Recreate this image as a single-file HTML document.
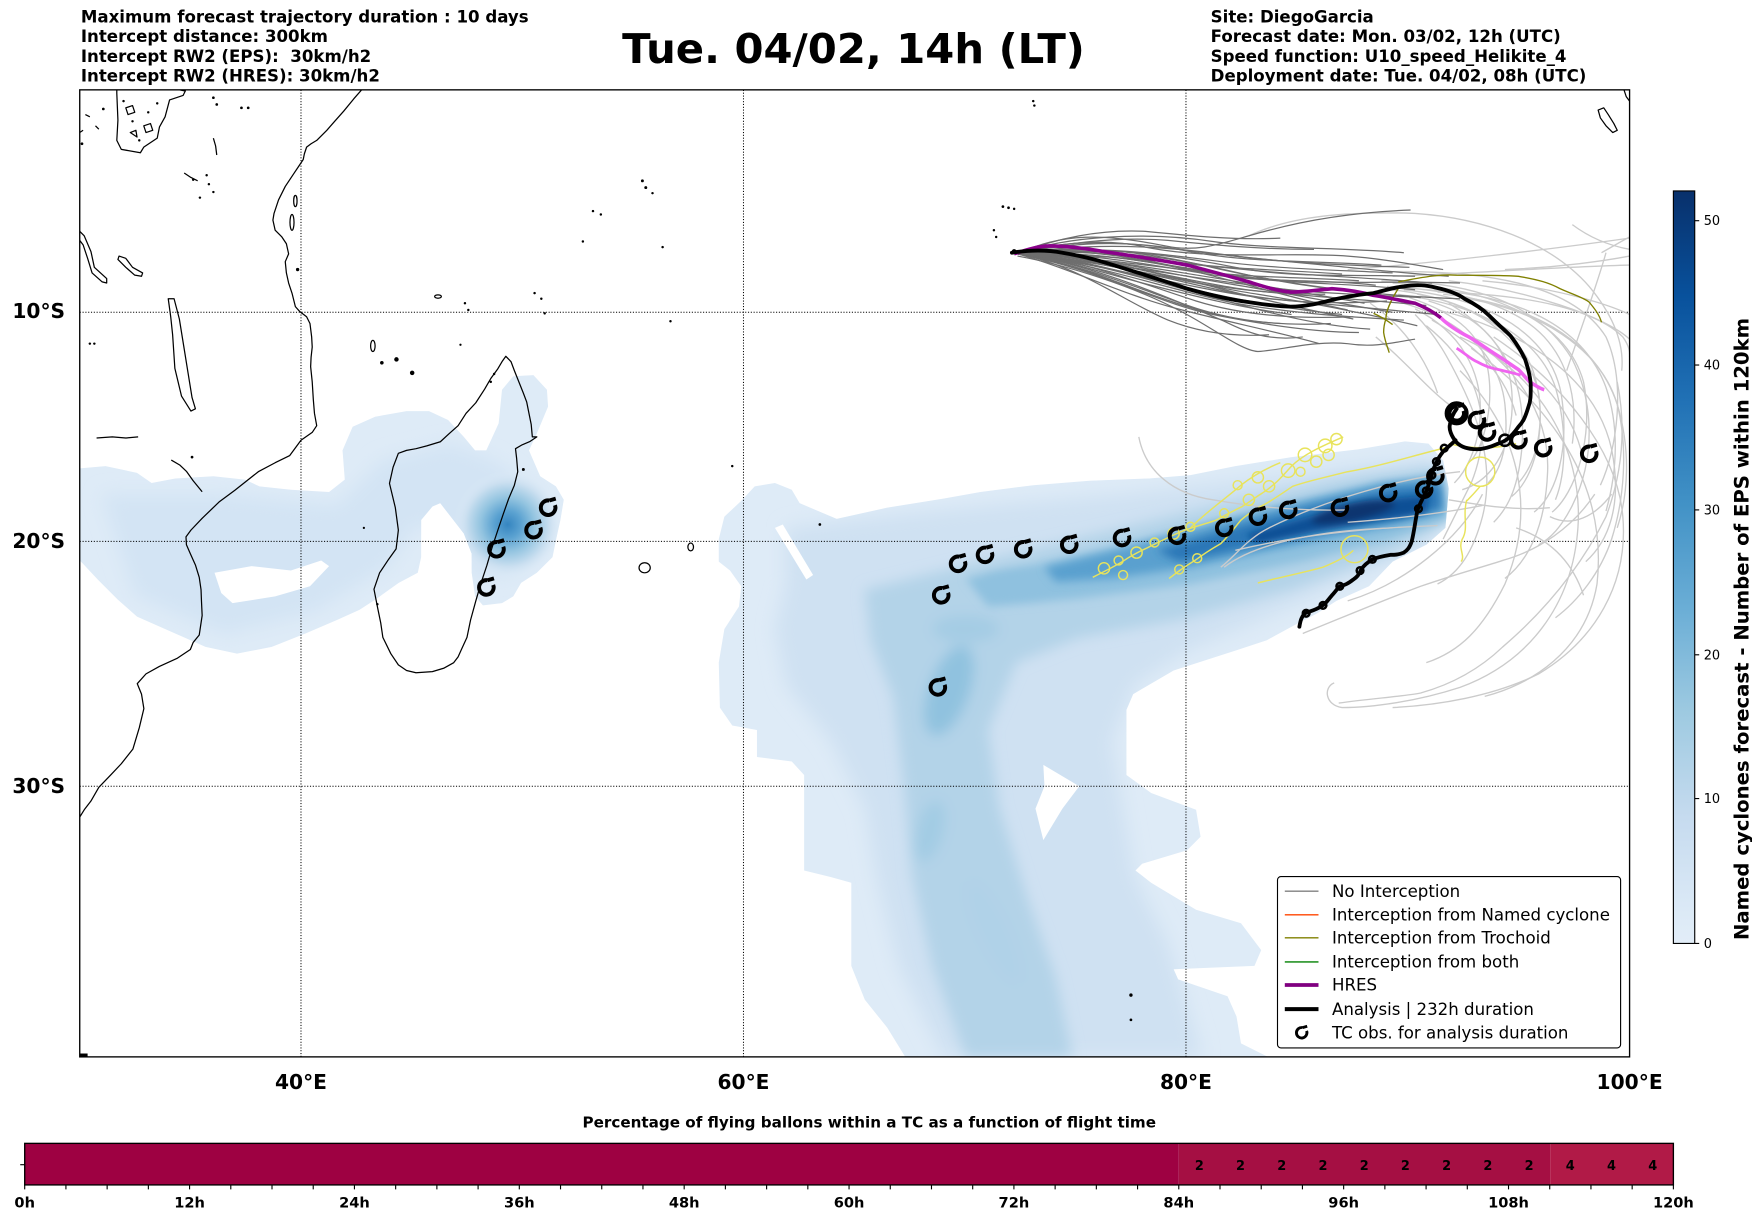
<!DOCTYPE html>
<html><head><meta charset="utf-8"><style>html,body{margin:0;padding:0;background:#fff}svg{display:block}</style></head>
<body>
<svg xmlns="http://www.w3.org/2000/svg" width="1752" height="1213" viewBox="0 0 1560 1080" preserveAspectRatio="none" font-family="'DejaVu Sans','Liberation Sans',sans-serif">
<defs>
<clipPath id="mapc"><rect x="71" y="80" width="1380" height="861"/></clipPath>
<clipPath id="cc"><path d="M640,480 L645,460 L660,446 L672,433 L690,430 L705,436 L712,448 L745,462 L790,452 L840,444 L873,438 L920,432 L970,428 L1023,426 L1060,423 L1100,415 L1150,407 L1210,400 L1251,393 L1272,395 L1285,410 L1290,435 L1287,470 L1270,485 L1240,500 L1219,522 L1190,535 L1173,546 L1150,558 L1128,570 L1101,579 L1045,597 L1009,618 L1003,632 L1003,690 L1025,706 L1065,721 L1069,745 L1057,757 L1017,769 L1011,775 L1025,786 L1065,810 L1105,822 L1123,846 L1117,860 L1045,863 L1049,872 L1093,887 L1101,905 L1105,929 L1129,941 L806,941 L790,915 L770,890 L758,860 L758,786 L740,781 L716,775 L716,690 L705,678 L674,674 L674,650 L652,646 L641,630 L640,590 L645,560 L658,540 L660,522 L650,508 L640,500 Z"/></clipPath>
<clipPath id="lc"><path d="M71,417 L94,415 L122,421 L135,430 L156,426 L190,424 L218,427 L231,433 L259,436 L293,438 L307,427 L305,401 L314,380 L334,371 L362,366 L382,366 L399,374 L413,389 L423,401 L433,401 L444,377 L447,347 L457,335 L475,334 L487,347 L488,362 L478,386 L471,401 L481,424 L495,433 L502,445 L499,463 L495,481 L492,496 L478,510 L464,519 L457,531 L447,537 L430,539 L423,531 L420,510 L420,493 L413,475 L399,457 L392,448 L385,451 L375,463 L375,496 L372,510 L355,519 L334,534 L320,543 L300,552 L272,564 L242,576 L211,582 L183,576 L156,564 L122,549 L105,534 L87,516 L74,502 L71,499 Z"/></clipPath>
<filter id="b8" x="-20%" y="-20%" width="140%" height="140%"><feGaussianBlur stdDeviation="8"/></filter>
<filter id="b6" x="-20%" y="-20%" width="140%" height="140%"><feGaussianBlur stdDeviation="6"/></filter>
<filter id="b4" x="-20%" y="-50%" width="140%" height="200%"><feGaussianBlur stdDeviation="4"/></filter>
<filter id="b3" x="-20%" y="-50%" width="140%" height="200%"><feGaussianBlur stdDeviation="3"/></filter>
<radialGradient id="mg" cx="452" cy="467" r="48" gradientUnits="userSpaceOnUse">
<stop offset="0" stop-color="#3585c0"/><stop offset="0.25" stop-color="#5ba2d1"/><stop offset="0.5" stop-color="#93c4e0"/><stop offset="0.78" stop-color="#cadff0"/><stop offset="1" stop-color="#deebf7" stop-opacity="0"/>
</radialGradient>
<linearGradient id="cb" x1="0" y1="1" x2="0" y2="0">
<stop offset="0" stop-color="#e2edf8"/><stop offset="0.028" stop-color="#deebf7"/><stop offset="0.167" stop-color="#c6dbef"/><stop offset="0.306" stop-color="#9ecae1"/><stop offset="0.444" stop-color="#6baed6"/><stop offset="0.583" stop-color="#4292c6"/><stop offset="0.722" stop-color="#2171b5"/><stop offset="0.861" stop-color="#08519c"/><stop offset="1" stop-color="#08306b"/>
</linearGradient>
</defs>

<rect width="1560" height="1080" fill="#fff"/>

<!-- header -->
<g font-size="14.8" font-weight="bold" fill="#000">
<text x="72" y="20">Maximum forecast trajectory duration : 10 days</text>
<text x="72" y="37.5">Intercept distance: 300km</text>
<text x="72" y="55">Intercept RW2 (EPS):&#160; 30km/h2</text>
<text x="72" y="72.5">Intercept RW2 (HRES): 30km/h2</text>
<text x="1078" y="20">Site: DiegoGarcia</text>
<text x="1078" y="37.5">Forecast date: Mon. 03/02, 12h (UTC)</text>
<text x="1078" y="55">Speed function: U10_speed_Helikite_4</text>
<text x="1078" y="72.5">Deployment date: Tue. 04/02, 08h (UTC)</text>
</g>
<text x="760" y="56" font-size="36.6" font-weight="bold" text-anchor="middle" textLength="412" lengthAdjust="spacingAndGlyphs">Tue. 04/02, 14h (LT)</text>

<g clip-path="url(#mapc)">
<!-- density: left region -->
<path fill="#deebf7" d="M71,417 L94,415 L122,421 L135,430 L156,426 L190,424 L218,427 L231,433 L259,436 L293,438 L307,427 L305,401 L314,380 L334,371 L362,366 L382,366 L399,374 L413,389 L423,401 L433,401 L444,377 L447,347 L457,335 L475,334 L487,347 L488,362 L478,386 L471,401 L481,424 L495,433 L502,445 L499,463 L495,481 L492,496 L478,510 L464,519 L457,531 L447,537 L430,539 L423,531 L420,510 L420,493 L413,475 L399,457 L392,448 L385,451 L375,463 L375,496 L372,510 L355,519 L334,534 L320,543 L300,552 L272,564 L242,576 L211,582 L183,576 L156,564 L122,549 L105,534 L87,516 L74,502 L71,499 Z"/>
<g clip-path="url(#lc)">
<g filter="url(#b8)"><path fill="#d3e4f4" d="M90,440 L200,440 L300,450 L340,410 L400,395 L440,410 L480,440 L485,480 L460,510 L425,515 L400,470 L370,468 L345,505 L280,545 L200,565 L120,530 Z"/></g>
<circle cx="452" cy="467" r="48" fill="url(#mg)"/>
</g>
<path fill="#fff" d="M191,510 L224,504 L259,508 L286,499 L293,504 L276,522 L245,531 L207,537 L197,528 Z"/>

<!-- density: central -->
<path fill="#deebf7" d="M640,480 L645,460 L660,446 L672,433 L690,430 L705,436 L712,448 L745,462 L790,452 L840,444 L873,438 L920,432 L970,428 L1023,426 L1060,423 L1100,415 L1150,407 L1210,400 L1251,393 L1272,395 L1285,410 L1290,435 L1287,470 L1270,485 L1240,500 L1219,522 L1190,535 L1173,546 L1150,558 L1128,570 L1101,579 L1045,597 L1009,618 L1003,632 L1003,690 L1025,706 L1065,721 L1069,745 L1057,757 L1017,769 L1011,775 L1025,786 L1065,810 L1105,822 L1123,846 L1117,860 L1045,863 L1049,872 L1093,887 L1101,905 L1105,929 L1129,941 L806,941 L790,915 L770,890 L758,860 L758,786 L740,781 L716,775 L716,690 L705,678 L674,674 L674,650 L652,646 L641,630 L640,590 L645,560 L658,540 L660,522 L650,508 L640,500 Z"/>
<g clip-path="url(#cc)">
<g filter="url(#b8)"><path fill="#cfe1f2" d="M700,470 L800,458 L900,448 L1000,440 L1100,428 L1200,415 L1275,408 L1290,440 L1280,478 L1240,500 L1150,540 L1060,578 L1010,610 L990,660 L1000,720 L1010,780 L1040,840 L1070,941 L840,941 L800,860 L780,780 L770,720 L740,660 L700,610 L690,560 L700,520 Z"/></g>
<g filter="url(#b6)"><path fill="#b3d3e8" d="M770,525 L880,498 L1000,470 L1100,446 L1200,425 L1280,415 L1290,465 L1240,492 L1150,525 L1050,552 L960,568 L905,590 L880,650 L890,720 L915,800 L940,870 L955,941 L860,941 L830,860 L812,780 L805,700 L795,620 L775,570 Z"/>
<ellipse cx="845" cy="615" rx="18" ry="42" transform="rotate(20 845 615)" fill="#90c2df"/>
<ellipse cx="828" cy="740" rx="12" ry="28" transform="rotate(15 828 740)" fill="#a3cce4"/>
<ellipse cx="885" cy="830" rx="14" ry="50" transform="rotate(-25 885 830)" fill="#b0d2e8"/>
<ellipse cx="905" cy="520" rx="30" ry="9" fill="#85bbdc"/>
<ellipse cx="860" cy="560" rx="30" ry="12" fill="#a4cce4"/></g>
<g filter="url(#b4)"><path fill="#8fc1df" d="M860,515 L950,497 L1050,474 L1150,451 L1230,432 L1285,422 L1290,462 L1240,480 L1160,500 L1060,520 L960,533 L880,540 Z"/></g>
<g filter="url(#b4)"><path fill="#5aa0cf" d="M930,505 L1000,488 L1080,466 L1160,446 L1230,430 L1282,425 L1286,456 L1250,466 L1200,476 L1130,490 L1060,505 L990,515 L940,518 Z"/></g>
<g filter="url(#b4)"><path fill="#2b77b7" d="M1030,490 L1100,469 L1170,450 L1240,435 L1282,432 L1283,453 L1240,463 L1180,473 L1110,488 L1050,500 Z"/></g>
<g filter="url(#b3)"><path fill="#0c4f95" d="M1110,476 L1170,459 L1230,445 L1272,441 L1270,456 L1230,463 L1170,473 L1120,484 Z"/>
<ellipse cx="1205" cy="456" rx="38" ry="8" transform="rotate(-12 1205 456)" fill="#08346f"/></g>
</g>
<path fill="#fff" d="M690,470 L697,467 L724,512 L718,516 Z"/>
<path fill="#fff" d="M929,681 L961,700 L946,720 L929,748 L922,720 L930,700 Z"/>

<!-- gridlines -->
<g stroke="#000" stroke-width="0.9" stroke-dasharray="1 1.5" fill="none">
<line x1="268" y1="80" x2="268" y2="941"/><line x1="662" y1="80" x2="662" y2="941"/><line x1="1056" y1="80" x2="1056" y2="941"/>
<line x1="71" y1="278" x2="1451" y2="278"/><line x1="71" y1="482" x2="1451" y2="482"/><line x1="71" y1="700" x2="1451" y2="700"/>
</g>

<!-- coastlines -->
<g stroke="#000" stroke-width="1.1" fill="none" stroke-linejoin="round">
<path d="M322,80 L315,88 L306,99 L298,108 L291,116 L282,125 L277,128 L273,131 L271,137 L270,142 L266,148 L262,154 L258,160 L254,166 L251,172 L248,178 L246,184 L244,190 L243,196 L245,205 L251,211 L255,217 L257,226 L254,233 L255,243 L257,252 L260,261 L263,273 L267,277.5 L273,282 L276,288 L277.5,300 L278,309 L277,318 L276.6,326.5 L278,340 L279,356 L280,368 L282,379 L278,385 L268,392 L258,405.6 L245,412 L230,420 L209,436.6 L195,447 L180,461.5 L170,472 L165.6,478 L166,485 L169.5,493 L174,503 L177.4,514 L179,525 L179.4,535.3 L180,548 L177.4,565.4 L172,572 L169.5,578.3 L158,586 L141.9,593.4 L130,600 L122.2,608.7 L126,618 L128.1,630.9 L124,648 L118.3,667 L108,680 L98.6,690 L88,701 L80.9,713.3 L75,721 L71,727.5"/>
<path d="M450.4,317.2 L455,322 L458,330 L462,340 L466,350 L469,358 L471,368 L473,378 L474,389 L478,389 L472,393 L465,396 L459,399.5 L460,408 L461,420 L458,432 L453,443.8 L448,458 L443.3,471.9 L438,488 L433.5,503.4 L428,520 L423.6,535.3 L419,552 L415.8,567.5 L411,578 L407.9,584.9 L404,590 L395,595 L385,598 L370.4,599 L362,597 L354.7,592 L348,582 L340.9,567.5 L339,554.6 L336,540 L333,524.6 L338,510 L346,498 L352.7,488.7 L354.7,472 L352,452 L346.8,430.4 L350,416 L354.7,403.6 L362,401 L370.4,399.5 L380,397 L392.1,393.3 L400,386 L407.9,379 L415,368 L423.6,358.7 L431.5,346.5 L437,337 L443.3,328.3 L447,322 Z"/>
<path d="M149.8,266 L152,282 L153.7,298 L155.7,328 L161.6,352.6 L170,366 L174,364 L171,354 L167.5,332.4 L163.6,308.2 L159.7,284 L155,266 Z"/>
<path d="M104,80 L104,83 L105,107 L104,125 L108,133 L125,136 L128,131 L140,123 L142,113 L147,104 L151,89 L163,85 L165,81 L160,80"/>
<path d="M112,96 L118,94 L120,100 L114,102 Z M128,112 L134,110 L136,116 L130,118 Z M116,118 L121,116 L122,122 Z"/>
<path d="M71,206 L75,210 L81,224 L84,238 L95,248 L95,252 L91,251 L82,243 L78,230 L74,218 L71,214"/>
<path d="M106,228 L112,230 L118,238 L127,243 L126,246 L120,245 L112,238 L105,231 Z"/>
<path d="M86,390 L100,389 L112,390 L123,389"/>
<path d="M152.5,409.6 L160,414 L166.2,419.9 L172,428 L180,437.8"/>
<path d="M71,118 L74,116 M76,102 L80,104 M85,112 L88,115"/>
<path d="M190,123 L192,130 L193,138 M164,154 L170,158 L176,161"/>
<ellipse cx="260" cy="198" rx="1.8" ry="7"/>
<ellipse cx="263" cy="179" rx="1.5" ry="5"/>
<ellipse cx="332" cy="308" rx="2" ry="5"/>
<ellipse cx="390" cy="264" rx="3" ry="1.5"/>
<ellipse cx="574" cy="505.5" rx="5" ry="4.5"/>
<ellipse cx="615" cy="487" rx="2.5" ry="3.5"/>
<path d="M1423,98 L1428,96 L1432,102 L1437,110 L1440,116 L1436,118 L1430,112 L1425,105 Z"/>
<path d="M1446,80 L1448,86 L1451,90"/>
</g>
<g fill="#000">
<circle cx="340" cy="323" r="1.6"/><circle cx="353" cy="320" r="2"/><circle cx="367" cy="332" r="2"/>
<circle cx="265" cy="240" r="1.5"/><circle cx="190" cy="87" r="1.2"/><circle cx="193" cy="93" r="1.2"/><circle cx="215" cy="96" r="1.2"/><circle cx="221" cy="96" r="1.2"/>
<circle cx="172" cy="160" r="1.1"/><circle cx="184" cy="156" r="1.1"/><circle cx="186" cy="164" r="1.1"/><circle cx="178" cy="176" r="1.1"/><circle cx="190" cy="171" r="1.1"/>
<circle cx="80" cy="306" r="1.1"/><circle cx="84" cy="306" r="1.1"/><circle cx="171" cy="407" r="1.2"/><circle cx="73" cy="128" r="1.2"/><circle cx="92" cy="97" r="1.2"/>
<circle cx="110" cy="90" r="1.1"/><circle cx="118" cy="108" r="1.1"/><circle cx="124" cy="125" r="1.1"/><circle cx="132" cy="100" r="1.1"/><circle cx="140" cy="92" r="1.1"/>
<circle cx="414" cy="270" r="1.1"/><circle cx="417" cy="276" r="1.1"/><circle cx="410" cy="307" r="1"/><circle cx="476" cy="261" r="1.1"/><circle cx="482" cy="266" r="1.1"/><circle cx="485" cy="279" r="1.1"/>
<circle cx="519" cy="215" r="1.1"/><circle cx="528" cy="188" r="1.1"/><circle cx="535" cy="191" r="1.1"/><circle cx="572" cy="161" r="1.3"/><circle cx="575" cy="167" r="1.3"/><circle cx="581" cy="172" r="1.1"/><circle cx="590" cy="220" r="1.1"/><circle cx="597" cy="286" r="1.1"/>
<circle cx="652" cy="415" r="1.1"/><circle cx="730" cy="467" r="1.2"/><circle cx="466" cy="418" r="1.3"/><circle cx="440" cy="333" r="1.1"/><circle cx="437" cy="340" r="1.1"/><circle cx="336" cy="538" r="1.1"/><circle cx="324" cy="470" r="1"/>
<circle cx="893" cy="184" r="1.2"/><circle cx="898" cy="185" r="1.2"/><circle cx="903" cy="186" r="1.1"/><circle cx="885" cy="205" r="1.1"/><circle cx="887" cy="211" r="1.1"/>
<circle cx="920" cy="90" r="1.1"/><circle cx="921" cy="94" r="1.1"/><circle cx="1007" cy="886" r="1.5"/><circle cx="1007" cy="908" r="1.2"/>
<rect x="71" y="938" width="7" height="3"/>
</g>

<!-- light gray tracks -->
<g stroke="#cbcbcb" stroke-width="1.2" fill="none">
<path d="M1112,210 C1150,192 1200,188 1260,190 C1320,194 1380,215 1415,255 C1440,285 1446,310 1444,330"/>
<path d="M1200,240 C1280,234 1380,222 1451,212"/>
<path d="M1230,242 C1320,240 1400,252 1430,300 C1448,340 1440,400 1425,432"/>
<path d="M1240,252 C1330,256 1395,286 1410,340 C1420,390 1402,440 1382,456"/>
<path d="M1250,258 C1330,266 1380,300 1390,350 C1398,400 1386,440 1366,456"/>
<path d="M1262,262 C1320,272 1360,306 1370,350 C1376,395 1362,430 1346,442"/>
<path d="M1272,268 C1330,285 1350,320 1346,370 C1342,410 1322,430 1302,436"/>
<path d="M1255,265 C1300,280 1320,300 1325,330 C1330,360 1322,395 1310,410"/>
<path d="M1280,276 C1350,292 1420,332 1435,400 C1445,450 1432,482 1412,500"/>
<path d="M1290,250 C1360,258 1430,282 1451,302"/>
<path d="M1300,300 C1370,330 1410,400 1405,470 C1400,540 1360,590 1300,612 C1260,625 1220,630 1195,630 C1180,628 1178,612 1188,608"/>
<path d="M1310,310 C1380,360 1432,430 1422,520 C1412,580 1362,610 1322,620"/>
<path d="M1300,420 C1250,425 1180,445 1130,470 C1110,480 1100,495 1087,505"/>
<path d="M1014,389 C1020,420 1045,440 1080,445 C1120,452 1160,455 1200,454"/>
<path d="M1160,564 C1190,552 1230,535 1265,522 C1300,510 1320,505 1338,499 C1370,490 1400,470 1420,440"/>
<path d="M1192,626 C1220,622 1250,620 1265,617 C1290,610 1315,598 1338,576 C1380,540 1410,500 1430,460 C1445,420 1448,380 1440,340"/>
<path d="M1426,225 C1435,220 1445,214 1451,211"/>
<path d="M1430,225 C1420,260 1405,300 1395,330"/>
<path d="M1290,270 C1340,300 1360,340 1355,400 C1352,430 1345,450 1330,465"/>
<path d="M1285,262 C1360,270 1420,300 1440,360 C1452,400 1450,440 1440,470"/>
<path d="M1260,280 C1280,300 1290,320 1300,340"/>
<path d="M1225,300 C1250,320 1270,345 1290,360"/>
<path d="M1320,440 C1300,480 1250,520 1200,535"/>
<path d="M1240,246 C1300,244 1380,238 1451,236"/>
<path d="M1380,460 C1400,470 1420,460 1435,440"/>
<path d="M1240,470 C1180,472 1120,482 1090,505"/>
<path d="M1270,290 C1320,330 1330,380 1310,430 C1300,450 1290,470 1285,480"/>
<path d="M1300,330 C1350,380 1370,450 1340,520 C1320,560 1300,580 1270,590"/>
<path d="M1230,250 C1310,250 1370,270 1400,320 C1420,360 1420,410 1400,450 C1390,470 1380,480 1370,485"/>
<path d="M1245,262 C1320,272 1370,300 1385,345 C1395,380 1395,420 1385,445"/>
<path d="M1270,258 C1350,262 1410,290 1430,345 C1442,380 1440,420 1430,455"/>
<path d="M1250,270 C1300,285 1335,315 1340,360 C1344,400 1335,420 1325,430"/>
<path d="M1260,275 C1300,295 1320,330 1318,370 C1316,400 1305,420 1295,430"/>
<path d="M1280,260 C1360,262 1420,275 1445,300 C1452,310 1451,315 1451,318"/>
<path d="M1300,265 C1370,275 1425,310 1440,360 C1450,400 1446,445 1435,480 C1425,510 1405,535 1385,550"/>
<path d="M1290,290 C1350,320 1380,370 1378,420 C1376,470 1360,500 1340,515"/>
<path d="M1310,300 C1360,320 1400,360 1410,410"/>
<path d="M1240,258 C1300,265 1350,290 1365,330 C1378,370 1370,410 1352,430"/>
<path d="M1320,250 C1380,255 1430,270 1451,280"/>
<path d="M1340,240 C1390,238 1430,232 1451,228"/>
<path d="M1300,340 C1320,380 1330,420 1320,460 C1312,490 1300,510 1280,520"/>
<path d="M1220,270 C1250,290 1270,320 1280,350"/>
<path d="M1330,300 C1390,340 1440,400 1445,460 C1450,520 1420,570 1370,600 C1330,620 1280,628 1240,630"/>
<path d="M1350,470 C1380,480 1400,500 1410,530"/>
<path d="M1290,445 C1320,450 1350,455 1380,452"/>
<path d="M1200,465 C1240,462 1280,458 1320,450"/>
<path d="M1100,490 C1150,478 1210,470 1280,468"/>
<path d="M1235,255 C1290,258 1345,268 1375,300 C1398,325 1405,360 1400,395"/>
<path d="M1275,285 C1310,305 1340,330 1350,370"/>
<path d="M1400,200 C1420,215 1440,220 1451,222"/>
</g>

<!-- dark gray tracks -->
<g stroke="#6e6e6e" stroke-width="1.1" fill="none">
<path d="M906,226 C946,207 983,208 1038,219 C1070,226 1094,214 1130,205 C1160,197 1200,189 1256,187"/>
<path d="M906,226 C950,212 1000,215 1050,222 C1100,229 1150,233 1200,238 C1230,241 1260,244 1290,246"/>
<path d="M906,226 C960,218 1020,224 1080,232 C1130,239 1180,240 1240,243"/>
<path d="M906,226 C970,222 1040,236 1100,246 C1150,253 1200,252 1260,258"/>
<path d="M906,226 C980,228 1050,250 1110,258 C1160,264 1210,266 1270,272"/>
<path d="M906,226 C975,234 1040,258 1100,270 C1150,279 1200,282 1250,285"/>
<path d="M906,228 C950,236 1010,255 1053,278 C1080,292 1105,312 1120,313 C1140,312 1170,303 1200,306 C1225,310 1245,304 1260,302"/>
<path d="M906,226 C960,230 1020,248 1070,262 C1120,276 1170,290 1220,293"/>
<path d="M906,226 C960,214 1010,214 1060,224 C1110,234 1170,232 1230,236"/>
<path d="M906,226 C940,216 985,212 1020,220 C1080,232 1150,224 1200,228 C1230,230 1260,236 1285,240"/>
<path d="M906,226 C990,236 1060,258 1130,266 C1190,272 1240,276 1280,280"/>
<path d="M906,226 C950,224 1000,236 1040,246 C1080,256 1130,262 1180,262"/>
<path d="M906,226 C960,236 1000,268 1040,285 C1070,297 1100,300 1130,298"/>
<path d="M906,226 C1000,230 1080,246 1150,250 C1200,253 1250,250 1300,252"/>
<path d="M906,226 C960,220 1030,226 1090,240 C1140,252 1200,262 1300,266"/>
<path d="M906,226 C940,218 990,210 1040,214 C1080,218 1120,222 1170,222"/>
<path d="M906,226 C970,226 1030,242 1090,252 C1140,260 1190,270 1240,278"/>
<path d="M906,226 C980,240 1030,270 1080,280 C1120,288 1170,296 1210,296"/>
<path d="M906,226 C960,232 1030,260 1090,286 C1110,296 1130,304 1160,300"/>
<path d="M906,226 C950,210 1020,206 1080,215 C1130,222 1190,220 1250,225"/>
<path d="M906,226 C965,224 1025,236 1075,244 C1125,252 1175,248 1225,254"/>
<path d="M906,226 C955,228 1005,244 1055,256 C1105,268 1155,276 1195,280"/>
<path d="M906,226 C950,218 1010,222 1070,236 C1120,248 1170,256 1230,262"/>
<path d="M906,226 C960,226 1020,240 1075,254 C1120,266 1165,276 1205,284"/>
<path d="M906,226 C955,220 1005,228 1050,238 C1100,248 1150,246 1210,250"/>
<path d="M906,226 C970,230 1030,246 1085,258 C1130,268 1180,272 1235,268"/>
<path d="M906,226 C945,222 995,226 1040,232 C1090,240 1140,240 1195,244"/>
<path d="M906,226 C975,238 1025,262 1070,276 C1110,288 1150,290 1185,288"/>
<path d="M906,226 C960,228 1010,236 1060,244 C1110,252 1160,260 1215,270"/>
<path d="M906,226 C950,232 990,250 1030,264 C1070,278 1100,286 1140,288"/>
<path d="M906,226 C965,216 1025,218 1085,226 C1140,234 1195,236 1255,238"/>
<path d="M906,226 C980,232 1050,246 1115,254 C1170,262 1220,262 1265,265"/>
<path d="M906,226 C945,230 985,244 1025,254 C1065,264 1105,274 1150,280"/>
<path d="M906,226 C960,224 1015,230 1065,242 C1115,254 1160,268 1200,276"/>
<path d="M906,226 C990,226 1060,236 1130,242 C1180,246 1230,248 1275,252"/>
<path d="M906,226 C955,240 1000,262 1045,274 C1090,286 1140,296 1175,306"/>
<path d="M906,226 C940,212 980,204 1020,206 C1060,210 1100,214 1140,212"/>
<path d="M906,226 C970,218 1040,226 1100,238 C1150,248 1200,244 1260,246"/>
<path d="M906,226 C960,230 1015,252 1065,268 C1110,282 1160,284 1205,282"/>
<path d="M906,226 C985,232 1055,252 1120,262 C1170,270 1220,280 1262,290"/>
</g>

<!-- olive -->
<g stroke="#808000" stroke-width="1.2" fill="none">
<path d="M1245,251 C1270,246 1285,244 1297,245 C1320,245 1340,245 1352,246 C1370,249 1380,252 1389,257 C1400,262 1410,265 1415,269 C1420,275 1424,280 1426,287"/>
<path d="M1245,257 C1238,268 1234,278 1234,284 C1232,290 1232,293 1232,296 C1233,303 1235,308 1237,314"/>
<path d="M1223,279 C1230,282 1236,286 1240,289"/>
</g>

<!-- yellow -->
<g stroke="#e8e35c" stroke-width="1.3" fill="none">
<path d="M973,514 C985,508 995,503 1001,499 C1010,493 1017,490 1023,487 C1035,481 1045,476 1055,472 C1070,467 1078,465 1083,463 C1092,458 1100,454 1106,451 C1114,446 1119,442 1124,439 C1135,432 1142,424 1150,415 C1160,405 1175,398 1196,389"/>
<circle cx="983" cy="506" r="5"/><circle cx="996" cy="499" r="4"/><circle cx="1012" cy="492" r="5"/><circle cx="1028" cy="483" r="4"/><circle cx="1045" cy="475" r="5"/><circle cx="1060" cy="469" r="4"/><circle cx="1090" cy="457" r="4"/><circle cx="1112" cy="445" r="5"/><circle cx="1130" cy="433" r="5"/><circle cx="1147" cy="419" r="6"/><circle cx="1162" cy="405" r="6"/><circle cx="1180" cy="397" r="6"/><circle cx="1190" cy="391" r="5"/><circle cx="1183" cy="405" r="5"/><circle cx="1172" cy="411" r="5"/><circle cx="1158" cy="420" r="4"/><circle cx="1102" cy="432" r="4"/><circle cx="1120" cy="425" r="5"/>
<path d="M1041,515 C1050,508 1057,503 1064,499 C1072,493 1080,488 1087,484 C1095,476 1100,469 1105,463 C1113,456 1120,452 1128,448 C1138,442 1145,437 1151,433 C1165,428 1180,425 1200,420 C1230,415 1260,405 1290,398"/>
<circle cx="1050" cy="507" r="4"/><circle cx="1066" cy="497" r="4"/><circle cx="1000" cy="512" r="4"/>
<path d="M1120,519 C1140,514 1160,510 1178,505 C1190,500 1200,495 1205,490"/>
<circle cx="1206" cy="489" r="12"/>
<path d="M1306,445 C1302,460 1308,470 1302,480 C1298,488 1305,495 1301,500"/>
<circle cx="1318" cy="420" r="13"/>
<path d="M1290,395 C1310,400 1330,400 1350,395"/>
<path d="M1318,433 C1312,440 1308,444 1306,446"/>
<path d="M1060,470 C1075,455 1090,445 1105,432 C1115,424 1125,418 1140,412"/>
</g>

<!-- HRES -->
<path d="M903,226 C915,222 925,219 935,219 C950,219 965,221 983,224 C1010,228 1035,232 1057,236 C1080,242 1095,246 1112,251 C1125,255 1137,259 1149,260 C1162,260 1175,258 1186,257 C1200,258 1212,260 1223,263 C1236,265 1250,268 1260,270 C1270,274 1278,279 1283,283" stroke="#8b008b" stroke-width="3.2" fill="none"/>
<path d="M1283,283 C1290,290 1300,296 1308,300 C1318,306 1326,312 1334,317 C1342,322 1347,326 1352,329 C1356,333 1359,337 1362,340 C1367,343 1371,346 1375,347" stroke="#f064f0" stroke-width="3.2" fill="none"/>
<path d="M1297,310 C1305,315 1310,320 1315,322 C1322,326 1328,328 1334,329 C1342,331 1348,332 1354,334" stroke="#f064f0" stroke-width="2.5" fill="none"/>

<!-- analysis -->
<g stroke="#000" stroke-width="3.4" fill="none" stroke-linecap="round" stroke-linejoin="round">
<path d="M901,225 C920,222 935,223 946,225 C970,229 985,234 1001,239 C1020,245 1040,251 1057,257 C1075,262 1095,267 1112,269 C1125,271 1137,273 1149,273 C1163,273 1175,270 1186,267 C1200,264 1212,262 1223,261 C1232,259 1240,256 1250,255 C1262,253 1270,254 1278,256 C1292,259 1300,263 1304,266 C1316,272 1322,277 1326,281 C1335,290 1340,294 1345,299 C1352,308 1355,314 1358,320 C1362,332 1363,338 1363,344 C1363,352 1363,357 1361,362 C1358,372 1356,376 1352,380 C1345,390 1340,393 1334,395 C1325,399 1320,400 1315,400 C1305,400 1300,397 1297,394 C1292,388 1290,382 1291,378 C1292,372 1294,368 1297,364"/>
<circle cx="1297" cy="368" r="9"/>
<path d="M1296,392 C1292,396 1288,399 1285,402 C1281,407 1279,411 1278,414 C1276,418 1275,421 1275,423 C1273,428 1272,432 1271,435 C1268,442 1264,448 1262,455 C1260,465 1259,474 1257,482 C1255,488 1253,490 1250,492 C1245,494 1242,494 1238,494 C1232,495 1227,496 1222,498 C1217,501 1214,504 1212,507 C1210,512 1208,514 1205,516 C1200,520 1197,521 1193,522 C1190,525 1188,528 1186,530 C1182,535 1180,538 1176,540 C1172,543 1167,544 1162,546 C1159,549 1158,552 1157,558"/>
</g>
<g stroke="#000" stroke-width="2.2" fill="none">
<circle cx="1286" cy="399" r="3"/><circle cx="1279" cy="411" r="3"/><circle cx="1275" cy="423" r="3"/><circle cx="1270" cy="437" r="3"/><circle cx="1263" cy="453" r="3"/><circle cx="1222" cy="498" r="3"/><circle cx="1211" cy="508" r="3"/><circle cx="1193" cy="522" r="3"/><circle cx="1178" cy="539" r="3"/><circle cx="1163" cy="546" r="3"/><circle cx="1340" cy="392" r="5"/>
</g>
<circle cx="903" cy="224" r="2.2" fill="#000"/>

<!-- TC obs markers -->
<g stroke="#000" stroke-width="3" fill="none">
<path transform="translate(433,523) scale(1.18)" d="M0.95,-5.4 A5.5,5.5 0 1 0 5.2,-1.9 M0.95,-5.4 L5.8,-6.8"/>
<path transform="translate(442,489) scale(1.18)" d="M0.95,-5.4 A5.5,5.5 0 1 0 5.2,-1.9 M0.95,-5.4 L5.8,-6.8"/>
<path transform="translate(475,472) scale(1.18)" d="M0.95,-5.4 A5.5,5.5 0 1 0 5.2,-1.9 M0.95,-5.4 L5.8,-6.8"/>
<path transform="translate(488,452) scale(1.18)" d="M0.95,-5.4 A5.5,5.5 0 1 0 5.2,-1.9 M0.95,-5.4 L5.8,-6.8"/>
<path transform="translate(835,612) scale(1.18)" d="M0.95,-5.4 A5.5,5.5 0 1 0 5.2,-1.9 M0.95,-5.4 L5.8,-6.8"/>
<path transform="translate(838,530) scale(1.18)" d="M0.95,-5.4 A5.5,5.5 0 1 0 5.2,-1.9 M0.95,-5.4 L5.8,-6.8"/>
<path transform="translate(853,502) scale(1.18)" d="M0.95,-5.4 A5.5,5.5 0 1 0 5.2,-1.9 M0.95,-5.4 L5.8,-6.8"/>
<path transform="translate(877,494) scale(1.18)" d="M0.95,-5.4 A5.5,5.5 0 1 0 5.2,-1.9 M0.95,-5.4 L5.8,-6.8"/>
<path transform="translate(911,489) scale(1.18)" d="M0.95,-5.4 A5.5,5.5 0 1 0 5.2,-1.9 M0.95,-5.4 L5.8,-6.8"/>
<path transform="translate(952,485) scale(1.18)" d="M0.95,-5.4 A5.5,5.5 0 1 0 5.2,-1.9 M0.95,-5.4 L5.8,-6.8"/>
<path transform="translate(999,479) scale(1.18)" d="M0.95,-5.4 A5.5,5.5 0 1 0 5.2,-1.9 M0.95,-5.4 L5.8,-6.8"/>
<path transform="translate(1048,477) scale(1.18)" d="M0.95,-5.4 A5.5,5.5 0 1 0 5.2,-1.9 M0.95,-5.4 L5.8,-6.8"/>
<path transform="translate(1090,470) scale(1.18)" d="M0.95,-5.4 A5.5,5.5 0 1 0 5.2,-1.9 M0.95,-5.4 L5.8,-6.8"/>
<path transform="translate(1120,460) scale(1.18)" d="M0.95,-5.4 A5.5,5.5 0 1 0 5.2,-1.9 M0.95,-5.4 L5.8,-6.8"/>
<path transform="translate(1147,454) scale(1.18)" d="M0.95,-5.4 A5.5,5.5 0 1 0 5.2,-1.9 M0.95,-5.4 L5.8,-6.8"/>
<path transform="translate(1193,452) scale(1.18)" d="M0.95,-5.4 A5.5,5.5 0 1 0 5.2,-1.9 M0.95,-5.4 L5.8,-6.8"/>
<path transform="translate(1236,439) scale(1.18)" d="M0.95,-5.4 A5.5,5.5 0 1 0 5.2,-1.9 M0.95,-5.4 L5.8,-6.8"/>
<path transform="translate(1268,436) scale(1.18)" d="M0.95,-5.4 A5.5,5.5 0 1 0 5.2,-1.9 M0.95,-5.4 L5.8,-6.8"/>
<path transform="translate(1278,424) scale(1.18)" d="M0.95,-5.4 A5.5,5.5 0 1 0 5.2,-1.9 M0.95,-5.4 L5.8,-6.8"/>
<path transform="translate(1297,368) scale(1.18)" d="M0.95,-5.4 A5.5,5.5 0 1 0 5.2,-1.9 M0.95,-5.4 L5.8,-6.8"/>
<path transform="translate(1315,374) scale(1.18)" d="M0.95,-5.4 A5.5,5.5 0 1 0 5.2,-1.9 M0.95,-5.4 L5.8,-6.8"/>
<path transform="translate(1324,385) scale(1.18)" d="M0.95,-5.4 A5.5,5.5 0 1 0 5.2,-1.9 M0.95,-5.4 L5.8,-6.8"/>
<path transform="translate(1352,392) scale(1.18)" d="M0.95,-5.4 A5.5,5.5 0 1 0 5.2,-1.9 M0.95,-5.4 L5.8,-6.8"/>
<path transform="translate(1374,399) scale(1.18)" d="M0.95,-5.4 A5.5,5.5 0 1 0 5.2,-1.9 M0.95,-5.4 L5.8,-6.8"/>
<path transform="translate(1415,404) scale(1.18)" d="M0.95,-5.4 A5.5,5.5 0 1 0 5.2,-1.9 M0.95,-5.4 L5.8,-6.8"/>
</g>
</g>

<!-- legend -->
<rect x="1137.5" y="780.5" width="305.5" height="152.5" rx="3" fill="#fff" stroke="#000" stroke-width="1"/>
<line x1="1144" y1="793.5" x2="1174" y2="793.5" stroke="#808080" stroke-width="1.2"/>
<line x1="1144" y1="814.5" x2="1174" y2="814.5" stroke="#ff4500" stroke-width="1.2"/>
<line x1="1144" y1="835" x2="1174" y2="835" stroke="#808000" stroke-width="1.2"/>
<line x1="1144" y1="856.5" x2="1174" y2="856.5" stroke="#008000" stroke-width="1.2"/>
<line x1="1144" y1="877" x2="1174" y2="877" stroke="#800080" stroke-width="3.4"/>
<line x1="1144" y1="898.5" x2="1174" y2="898.5" stroke="#000" stroke-width="3.6"/>
<path transform="translate(1159,919.5) scale(0.85)" d="M0.95,-5.4 A5.5,5.5 0 1 0 5.2,-1.9 M0.95,-5.4 L5.8,-6.8" stroke="#000" stroke-width="3" fill="none"/>
<g font-size="14.8" fill="#000">
<text x="1186" y="798.5">No Interception</text>
<text x="1186" y="819.5">Interception from Named cyclone</text>
<text x="1186" y="840">Interception from Trochoid</text>
<text x="1186" y="861.5">Interception from both</text>
<text x="1186" y="882">HRES</text>
<text x="1186" y="903.5">Analysis | 232h duration</text>
<text x="1186" y="924.5">TC obs. for analysis duration</text>
</g>

<!-- map frame -->
<rect x="71" y="80" width="1380" height="861" fill="none" stroke="#000" stroke-width="1.2"/>

<!-- axis labels -->
<g font-size="18" font-weight="bold" fill="#000">
<text x="58" y="283" text-anchor="end">10°S</text>
<text x="58" y="488" text-anchor="end">20°S</text>
<text x="58" y="706" text-anchor="end">30°S</text>
<text x="268" y="969.5" text-anchor="middle">40°E</text>
<text x="662" y="969.5" text-anchor="middle">60°E</text>
<text x="1056" y="969.5" text-anchor="middle">80°E</text>
<text x="1451" y="969.5" text-anchor="middle">100°E</text>
</g>

<!-- colorbar -->
<rect x="1490" y="170" width="19" height="670" fill="url(#cb)"/>
<rect x="1490" y="170" width="19" height="670" fill="none" stroke="#000" stroke-width="1"/>
<g stroke="#000" stroke-width="1">
<line x1="1509" y1="840" x2="1513" y2="840"/><line x1="1509" y1="711" x2="1513" y2="711"/><line x1="1509" y1="583" x2="1513" y2="583"/><line x1="1509" y1="454" x2="1513" y2="454"/><line x1="1509" y1="325" x2="1513" y2="325"/><line x1="1509" y1="196.5" x2="1513" y2="196.5"/>
</g>
<g font-size="11.5" fill="#000">
<text x="1517" y="844">0</text><text x="1517" y="715">10</text><text x="1517" y="587">20</text><text x="1517" y="458">30</text><text x="1517" y="329">40</text><text x="1517" y="200.5">50</text>
</g>
<text transform="translate(1557,560) rotate(-90)" font-size="17.5" font-weight="bold" text-anchor="middle">Named cyclones forecast - Number of EPS within 120km</text>

<!-- bottom bar -->
<text x="774" y="1004" font-size="13.5" font-weight="bold" text-anchor="middle">Percentage of flying ballons within a TC as a function of flight time</text>
<rect x="22" y="1018" width="1027.6" height="37" fill="#9e0142"/>
<rect x="1049.6" y="1018" width="330.7" height="37" fill="#a50f43"/>
<rect x="1380.3" y="1018" width="109.7" height="37" fill="#b11a47"/>
<rect x="22" y="1018" width="1468" height="37" fill="none" stroke="#000" stroke-width="1.2"/>
<line x1="18" y1="1037" x2="22" y2="1037" stroke="#000" stroke-width="1"/>
<line x1="21.5" y1="1057" x2="1491" y2="1057" stroke="#000" stroke-width="4" stroke-dasharray="1 35.7"/>
<g font-size="11.5" font-weight="bold" text-anchor="middle" fill="#000">
<text x="1067.9" y="1041.5">2</text><text x="1104.6" y="1041.5">2</text><text x="1141.3" y="1041.5">2</text><text x="1178" y="1041.5">2</text><text x="1214.7" y="1041.5">2</text><text x="1251.4" y="1041.5">2</text><text x="1288.1" y="1041.5">2</text><text x="1324.8" y="1041.5">2</text><text x="1361.5" y="1041.5">2</text>
<text x="1398.2" y="1041.5">4</text><text x="1434.9" y="1041.5">4</text><text x="1471.6" y="1041.5">4</text>
</g>
<g font-size="13" font-weight="bold" text-anchor="middle" fill="#000">
<text x="22" y="1075">0h</text><text x="168.8" y="1075">12h</text><text x="315.6" y="1075">24h</text><text x="462.4" y="1075">36h</text><text x="609.2" y="1075">48h</text><text x="756" y="1075">60h</text><text x="902.8" y="1075">72h</text><text x="1049.6" y="1075">84h</text><text x="1196.4" y="1075">96h</text><text x="1343.2" y="1075">108h</text><text x="1490" y="1075">120h</text>
</g>
</svg>
</body></html>
